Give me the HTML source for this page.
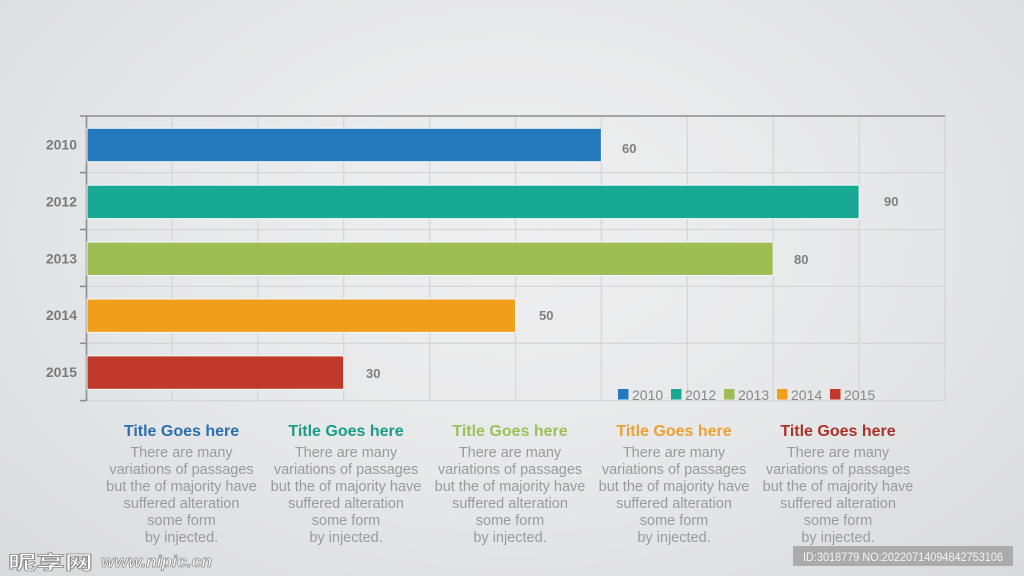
<!DOCTYPE html>
<html><head><meta charset="utf-8"><style>
html,body{margin:0;padding:0;width:1024px;height:576px;overflow:hidden;}
body{background:radial-gradient(ellipse at 50% 40%, #efeff0 0%, #e7e8e9 50%, #d9dadc 100%);}
svg{position:absolute;left:0;top:0;}
</style></head><body>
<svg width="1024" height="576" viewBox="0 0 1024 576" xmlns="http://www.w3.org/2000/svg" font-family="Liberation Sans, sans-serif">
<g stroke="#d6d6d6" stroke-width="1.3">
<line x1="171.9" y1="116" x2="171.9" y2="400"/>
<line x1="257.8" y1="116" x2="257.8" y2="400"/>
<line x1="343.7" y1="116" x2="343.7" y2="400"/>
<line x1="429.6" y1="116" x2="429.6" y2="400"/>
<line x1="515.5" y1="116" x2="515.5" y2="400"/>
<line x1="601.4" y1="116" x2="601.4" y2="400"/>
<line x1="687.3" y1="116" x2="687.3" y2="400"/>
<line x1="773.2" y1="116" x2="773.2" y2="400"/>
<line x1="859.1" y1="116" x2="859.1" y2="400"/>
<line x1="945" y1="116" x2="945" y2="401"/>
<line x1="86" y1="172.6" x2="945" y2="172.6"/>
<line x1="86" y1="229.5" x2="945" y2="229.5"/>
<line x1="86" y1="286.4" x2="945" y2="286.4"/>
<line x1="86" y1="343.3" x2="945" y2="343.3"/>
<line x1="86" y1="400.6" x2="945" y2="400.6"/>
</g>
<g stroke="#8c8c8c" stroke-width="1.6">
<line x1="80" y1="116" x2="945" y2="116"/>
<line x1="86.5" y1="116" x2="86.5" y2="401"/>
<line x1="80" y1="172.6" x2="86.5" y2="172.6"/>
<line x1="80" y1="229.5" x2="86.5" y2="229.5"/>
<line x1="80" y1="286.4" x2="86.5" y2="286.4"/>
<line x1="80" y1="343.3" x2="86.5" y2="343.3"/>
<line x1="80" y1="400.6" x2="86.5" y2="400.6"/>
</g>
<g stroke="#f4f8f8" stroke-width="1">
<rect x="87" y="128.3" width="514.4" height="33.4" fill="#2379bc"/>
<rect x="87" y="185.2" width="772.1" height="33.4" fill="#18a994"/>
<rect x="87" y="242.1" width="686.2" height="33.4" fill="#9ebd55"/>
<rect x="87" y="299" width="428.5" height="33.4" fill="#f19e1b"/>
<rect x="87" y="355.9" width="256.7" height="33.4" fill="#c0392b"/>
</g>
<g fill="#7a7a7a" font-size="14" font-weight="bold" text-anchor="end">
<text x="77" y="149.5">2010</text>
<text x="77" y="206.4">2012</text>
<text x="77" y="263.3">2013</text>
<text x="77" y="320.2">2014</text>
<text x="77" y="377.1">2015</text>
</g>
<g fill="#7f7f7f" font-size="13" font-weight="bold">
<text x="622" y="153">60</text>
<text x="884" y="206">90</text>
<text x="794" y="264">80</text>
<text x="539" y="320">50</text>
<text x="366" y="378">30</text>
</g>
<rect x="618" y="389" width="10.5" height="10.5" fill="#2379bc"/>
<rect x="671" y="389" width="10.5" height="10.5" fill="#18a994"/>
<rect x="724" y="389" width="10.5" height="10.5" fill="#9ebd55"/>
<rect x="777" y="389" width="10.5" height="10.5" fill="#f19e1b"/>
<rect x="830" y="389" width="10.5" height="10.5" fill="#c0392b"/>
<g fill="#888888" font-size="14">
<text x="632" y="400">2010</text>
<text x="685" y="400">2012</text>
<text x="738" y="400">2013</text>
<text x="791" y="400">2014</text>
<text x="844" y="400">2015</text>
</g>
<g font-size="16" font-weight="bold" text-anchor="middle">
<text x="181.5" y="436" fill="#2c6fae">Title Goes here</text>
<text x="346" y="436" fill="#1a9c86">Title Goes here</text>
<text x="510" y="436" fill="#9cc05a">Title Goes here</text>
<text x="674" y="436" fill="#e9a233">Title Goes here</text>
<text x="838" y="436" fill="#a8342b">Title Goes here</text>
</g>
<g font-size="14.5" fill="#9a9a9a" text-anchor="middle">
<text x="181.5" y="457">There are many</text>
<text x="181.5" y="474">variations of passages</text>
<text x="181.5" y="491">but the of majority have</text>
<text x="181.5" y="508">suffered alteration</text>
<text x="181.5" y="525">some form</text>
<text x="181.5" y="542">by injected.</text>
<text x="346" y="457">There are many</text>
<text x="346" y="474">variations of passages</text>
<text x="346" y="491">but the of majority have</text>
<text x="346" y="508">suffered alteration</text>
<text x="346" y="525">some form</text>
<text x="346" y="542">by injected.</text>
<text x="510" y="457">There are many</text>
<text x="510" y="474">variations of passages</text>
<text x="510" y="491">but the of majority have</text>
<text x="510" y="508">suffered alteration</text>
<text x="510" y="525">some form</text>
<text x="510" y="542">by injected.</text>
<text x="674" y="457">There are many</text>
<text x="674" y="474">variations of passages</text>
<text x="674" y="491">but the of majority have</text>
<text x="674" y="508">suffered alteration</text>
<text x="674" y="525">some form</text>
<text x="674" y="542">by injected.</text>
<text x="838" y="457">There are many</text>
<text x="838" y="474">variations of passages</text>
<text x="838" y="491">but the of majority have</text>
<text x="838" y="508">suffered alteration</text>
<text x="838" y="525">some form</text>
<text x="838" y="542">by injected.</text>
</g>
<g fill="#ffffff" stroke="#8a8a8a" stroke-width="0.8" font-weight="bold">
<text x="8" y="569" font-size="19" font-family="Noto Sans CJK SC, sans-serif" textLength="85" lengthAdjust="spacingAndGlyphs">昵享网</text>
<text x="101" y="567" font-size="17" font-style="italic" textLength="111" lengthAdjust="spacingAndGlyphs">www.nipic.cn</text>
</g>
<rect x="793" y="546" width="220" height="20" fill="#ababab"/>
<text x="803" y="561" font-size="12" fill="#f4f4f4" textLength="200" lengthAdjust="spacingAndGlyphs">ID:3018779 NO:20220714094842753106</text>
</svg>
</body></html>
